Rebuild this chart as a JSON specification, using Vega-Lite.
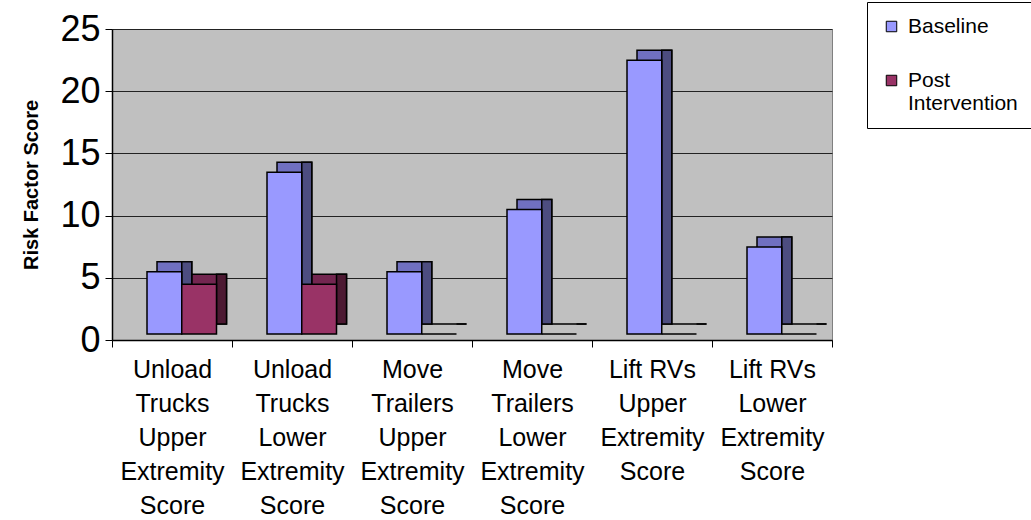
{
  "$schema": "https://vega.github.io/schema/vega-lite/v6.json",
  "autosize": "none",
  "width": 720,
  "height": 311,
  "padding": {"left": 112, "top": 29, "right": 199, "bottom": 180},
  "background": "white",
  "config": {
    "font": "Liberation Sans",
    "view": {"fill": "#C0C0C0", "stroke": "#808080", "strokeWidth": 1}
  },
  "data": {
    "values": [
      {"task": "Unload|Trucks|Upper|Extremity|Score", "series": "Baseline", "score": 5},
      {"task": "Unload|Trucks|Upper|Extremity|Score", "series": "Post Intervention", "score": 4},
      {"task": "Unload|Trucks|Lower|Extremity|Score", "series": "Baseline", "score": 13},
      {"task": "Unload|Trucks|Lower|Extremity|Score", "series": "Post Intervention", "score": 4},
      {"task": "Move|Trailers|Upper|Extremity|Score", "series": "Baseline", "score": 5},
      {"task": "Move|Trailers|Upper|Extremity|Score", "series": "Post Intervention", "score": 0},
      {"task": "Move|Trailers|Lower|Extremity|Score", "series": "Baseline", "score": 10},
      {"task": "Move|Trailers|Lower|Extremity|Score", "series": "Post Intervention", "score": 0},
      {"task": "Lift RVs|Upper|Extremity|Score", "series": "Baseline", "score": 22},
      {"task": "Lift RVs|Upper|Extremity|Score", "series": "Post Intervention", "score": 0},
      {"task": "Lift RVs|Lower|Extremity|Score", "series": "Baseline", "score": 7},
      {"task": "Lift RVs|Lower|Extremity|Score", "series": "Post Intervention", "score": 0}
    ]
  },
  "encoding": {
    "x": {
      "field": "task",
      "type": "nominal",
      "sort": null,
      "scale": {"paddingInner": 0, "paddingOuter": 0},
      "axis": {
        "title": null,
        "labelAngle": 0,
        "labelExpr": "datum.value ? split(datum.value, '|') : ''",
        "labelFontSize": 25,
        "labelLineHeight": 34,
        "labelColor": "black",
        "labelPadding": 10,
        "labelLimit": 200,
        "tickBand": "extent",
        "tickSize": 7,
        "tickColor": "black",
        "domainColor": "black",
        "domainWidth": 1.5
      }
    },
    "y": {
      "field": "score",
      "type": "quantitative",
      "scale": {"domain": [0, 25], "nice": false},
      "axis": {
        "title": "Risk Factor Score",
        "titleFontSize": 20,
        "titleFontWeight": "bold",
        "titleColor": "black",
        "titlePadding": 18,
        "values": [0, 5, 10, 15, 20, 25],
        "labelFontSize": 36,
        "labelColor": "black",
        "labelPadding": 5,
        "tickSize": 7,
        "tickColor": "black",
        "domainColor": "black",
        "domainWidth": 1.5,
        "grid": true,
        "gridColor": "#222222",
        "gridWidth": 1
      }
    }
  },
  "resolve": {"scale": {"xOffset": "independent"}},
  "layer": [
    {
      "mark": {"type": "bar", "stroke": "black", "strokeWidth": 1.5, "yOffset": -16},
      "encoding": {
        "xOffset": {"field": "series", "type": "nominal", "scale": {"range": [45, 114.5], "paddingInner": 0, "paddingOuter": 0}},
        "fill": {"condition": {"test": "datum.series == 'Baseline'", "value": "#7070C0"}, "value": "#732650"}
      }
    },
    {
      "mark": {"type": "bar", "stroke": "black", "strokeWidth": 1.5, "width": 10, "yOffset": -16},
      "encoding": {
        "xOffset": {"field": "series", "type": "nominal", "scale": {"range": [57.4, 126.9], "paddingInner": 0, "paddingOuter": 0}},
        "fill": {"condition": {"test": "datum.series == 'Baseline'", "value": "#4D4D80"}, "value": "#4D1A33"}
      }
    },
    {
      "mark": {"type": "bar", "stroke": "black", "strokeWidth": 1.5, "yOffset": -6},
      "encoding": {
        "xOffset": {"field": "series", "type": "nominal", "scale": {"range": [35, 104.5], "paddingInner": 0, "paddingOuter": 0}},
        "color": {
          "field": "series",
          "type": "nominal",
          "scale": {"domain": ["Baseline", "Post Intervention"], "range": ["#9999FF", "#993366"]},
          "legend": {
            "title": null,
            "orient": "none",
            "legendX": 755,
            "legendY": -27,
            "symbolType": "square",
            "symbolSize": 110,
            "symbolStrokeColor": "black",
            "symbolStrokeWidth": 1,
            "labelFontSize": 21,
            "labelColor": "black",
            "labelLineHeight": 25,
            "labelOffset": 6,
            "labelExpr": "datum.label == 'Post Intervention' ? ['Post', 'Intervention'] : datum.label",
            "labelBaseline": "middle",
            "rowPadding": 32,
            "padding": 14,
            "strokeColor": "black",
            "fillColor": "white",
            "labelLimit": 200
          }
        }
      }
    }
  ]
}
